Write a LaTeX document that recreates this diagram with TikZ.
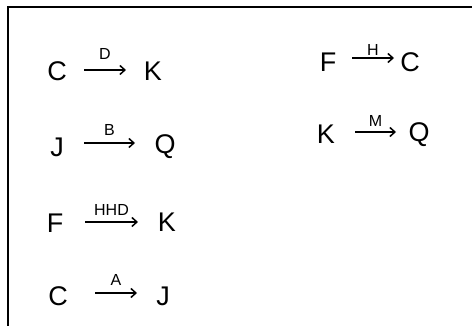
\documentclass[tikz,border=0pt]{standalone}
\usepackage{fontspec}
\setmainfont{Liberation Sans}
\usetikzlibrary{arrows.meta}
\begin{document}
\begin{tikzpicture}[x=1pt,y=-1pt,
  obj/.style={font=\fontsize{27}{29}\selectfont, inner sep=0pt},
  lab/.style={font=\fontsize{16}{17}\selectfont, inner sep=0pt},
  mor/.style={line width=1.5pt, -{Straight Barb[length=5pt,width=9pt]}},
  frame/.style={line width=2pt}]
\useasboundingbox (0,0) rectangle (472,326);
\fill[white] (0,0) rectangle (472,326);
% frame (open at right and bottom)
\coordinate (fb) at (8,326);
\coordinate (fc) at (8,7);
\coordinate (fr) at (472,7);
\draw[frame] (fb) -- (fc) -- (fr);
% left column
\node[obj] (c1) at (57,71) {C};
\node[obj] (k1) at (153,71) {K};
\draw[mor] (84,70) -- node[lab, above=10pt] (l1) {D} (126,70);
\node[obj] (j2) at (57,147) {J};
\node[obj] (q2) at (165,147) {Q};
\draw[mor] (84,143) -- node[lab, above=7pt] (l2) {B} (135,143);
\node[obj] (f3) at (55,223) {F};
\node[obj] (k3) at (167,222) {K};
\draw[mor] (85,222) -- node[lab, above=6pt] (l3) {HHD} (138,222);
\node[obj] (c4) at (58,296) {C};
\node[obj] (j4) at (163,296) {J};
\draw[mor] (95,293) -- node[lab, above=7pt] (l4) {A} (137,293);
% right column
\node[obj] (f5) at (328,62) {F};
\node[obj] (c5) at (410,62) {C};
\draw[mor] (352,58) -- node[lab, above=2pt] (l5) {H} (394,58);
\node[obj] (k6) at (326,134) {K};
\node[obj] (q6) at (419,135) {Q};
\draw[mor] (355,132) -- node[lab, above=5pt] (l6) {M} (396,132);
\end{tikzpicture}
\end{document}
